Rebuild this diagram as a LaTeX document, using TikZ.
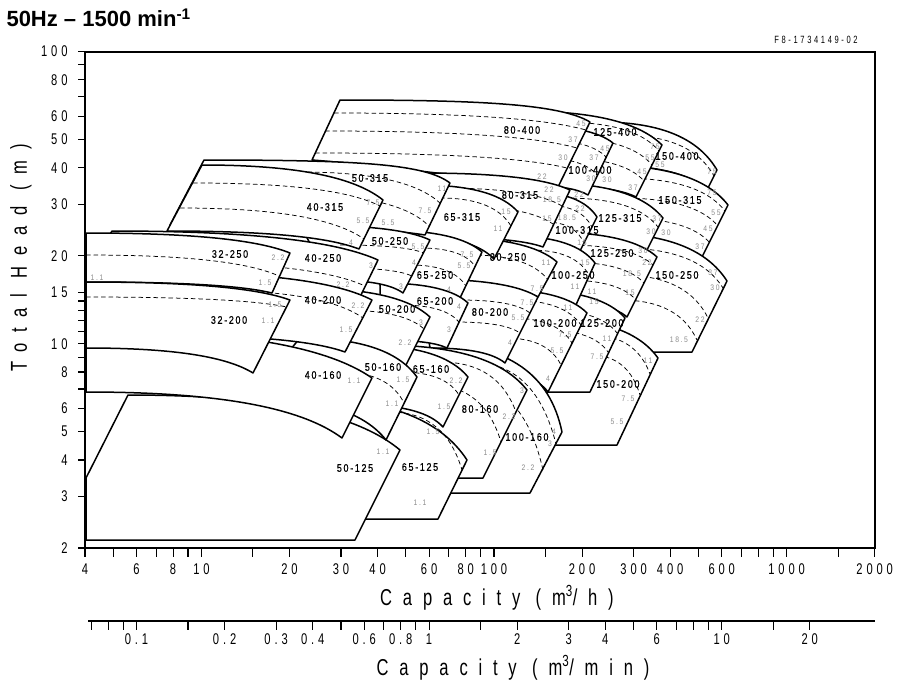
\documentclass[tikz,border=0pt]{standalone}
\usepackage{fontspec}
\setmainfont{Liberation Sans}
\newfontfamily\plotfont[FakeStretch=0.82,LetterSpace=15,FakeBold=0.6]{Liberation Sans}
\newfontfamily\kwfont[FakeStretch=0.85,LetterSpace=20]{Liberation Sans}
\newfontfamily\tickfont[FakeStretch=0.72,LetterSpace=25]{Liberation Sans}
\newfontfamily\axisfont[FakeStretch=0.72,LetterSpace=47]{Liberation Sans}
% pump curve piece: flat at the left, steep at the right
\newcommand\hq[4]{.. controls ({#1+0.55*(#3-#1)},#2) and ({#1+0.85*(#3-#1)},{#2+0.38*(#4-#2)}) .. (#3,#4)}
\newcommand\hqr[4]{.. controls ({#1+0.85*(#3-#1)},{#2+0.38*(#4-#2)}) and ({#1+0.55*(#3-#1)},#2) .. (#1,#2)}
% zone: top left, top right, bottom right, bottom left
\newcommand\pumpzone[8]{\filldraw[zone] (#1,#2) \hq{#1}{#2}{#3}{#4} -- (#5,#6) \hqr{#7}{#8}{#5}{#6} -- cycle;}
\newcommand\pumpzoneflat[8]{\filldraw[zone] (#1,#2) \hq{#1}{#2}{#3}{#4} -- (#5,#6) -- (#7,#8) -- cycle;}
\newcommand\motor[4]{\draw[kwline] (#1,#2) \hq{#1}{#2}{#3}{#4};}
\tikzset{
  zone/.style={draw=black, line width=1.5pt, fill=white, line join=round},
  kwline/.style={line width=0.75pt, dash pattern=on 4.5pt off 3pt},
  axisline/.style={line width=1.1pt},
  pname/.style={font=\plotfont\fontsize{11}{12}\selectfont},
  kwnum/.style={font=\kwfont\fontsize{8}{9}\selectfont, text=black!45},
  ticklab/.style={font=\tickfont\fontsize{15.5}{16}\selectfont},
  axistitle/.style={font=\axisfont\fontsize{23}{24}\selectfont}
}
\begin{document}
\begin{tikzpicture}[x=1pt, y=-1pt]
\useasboundingbox (0,0) rectangle (907,683);

% 150 series
\pumpzone{600}{122}{717}{170}{707}{190}{600}{165}
\motor{620}{135}{714}{176}
\pumpzone{600}{165}{728}{205}{701}{259}{600}{236}
\motor{620}{178}{725}{211}
\motor{620}{198}{718}{226}
\motor{620}{218}{710}{243}
\pumpzoneflat{600}{233}{727}{281}{692}{352}{600}{352}
\motor{620}{248}{723}{288}
\motor{620}{275}{708}{318}
\motor{620}{300}{697}{340}
\pumpzoneflat{540}{318}{658}{358}{617}{445}{540}{445}
\motor{590}{335}{650}{374}
\motor{590}{355}{640}{395}

% 125 series
\pumpzone{520}{111}{662}{145}{636}{197}{540}{185}
\motor{560}{122}{659}{151}
\motor{560}{138}{652}{165}
\motor{560}{158}{644}{181}
\pumpzone{545}{183}{663}{218}{647}{250}{545}{245}
\motor{565}{198}{658}{227}
\pumpzone{545}{232}{657}{257}{627}{317}{545}{300}
\motor{565}{245}{653}{265}
\motor{565}{262}{644}{283}
\motor{565}{280}{636}{300}
\pumpzoneflat{525}{290}{625}{318}{590}{392}{525}{392}
\motor{545}{310}{617}{333}
\motor{545}{330}{608}{352}

% 100 series
\pumpzone{520}{125}{613}{143}{588}{195}{520}{185}
\motor{540}{140}{606}{157}
\motor{540}{158}{597}{175}
\pumpzone{530}{192}{597}{217}{573}{265}{530}{250}
\motor{545}{205}{592}{227}
\motor{545}{222}{584}{243}
\pumpzone{510}{236}{595}{263}{575}{307}{510}{300}
\motor{530}{250}{589}{275}
\pumpzone{490}{289}{587}{313}{548}{392}{480}{370}
\motor{510}{300}{581}{325}
\motor{510}{318}{572}{343}
\motor{505}{338}{561}{365}
\filldraw[zone] (430,342) .. controls (510,345) and (550,375) .. (562,432) -- (530,493) -- (450,493) -- cycle;
\motor{470}{362}{556}{444}
\motor{460}{382}{543}{470}

% 80 series
\filldraw[zone] (340,100) .. controls (480,100) and (560,104) .. (590,122) -- (558,187) .. controls (470,178) and (390,166) .. (312,160) -- cycle;
\motor{334}{113}{586}{130}
\motor{325}{131}{577}{148}
\motor{315}{153}{567}{168}
\pumpzone{420}{173}{570}{190}{543}{247}{430}{237}
\motor{440}{188}{562}{206}
\motor{440}{205}{553}{224}
\pumpzone{440}{237}{557}{262}{538}{297}{440}{285}
\motor{470}{255}{548}{280}
\pumpzone{420}{279}{538}{297}{505}{363}{430}{348}
\motor{460}{300}{530}{313}
\motor{455}{322}{520}{333}
\pumpzoneflat{380}{345}{527}{390}{483}{478}{420}{478}
\motor{440}{362}{516}{412}
\motor{430}{385}{501}{442}

% 65 series
\pumpzone{420}{185}{518}{212}{494}{259}{400}{235}
\motor{440}{198}{511}{226}
\pumpzone{380}{230}{482}{252}{460}{298}{380}{285}
\motor{420}{248}{475}{266}
\motor{410}{265}{466}{286}
\pumpzone{380}{283}{468}{303}{447}{348}{380}{340}
\motor{400}{305}{459}{322}
\pumpzone{360}{345}{468}{377}{443}{427}{360}{405}
\motor{400}{372}{459}{395}
\pumpzoneflat{300}{398}{467}{460}{438}{519}{365}{519}
\motor{390}{412}{462}{470}

% 50 series
\filldraw[zone] (204,160) .. controls (360,160) and (425,164) .. (450,183) -- (425,235) \hqr{170}{225}{425}{235} -- cycle;
\motor{300}{172}{440}{203}
\motor{300}{195}{429}{226}
\pumpzone{300}{225}{430}{240}{403}{293}{330}{280}
\motor{340}{245}{424}{253}
\motor{340}{268}{412}{276}
\pumpzone{300}{288}{430}{317}{405}{367}{320}{345}
\motor{340}{310}{424}{329}
\filldraw[zone] (86,540) -- (355,540) -- (400,450) \hqr{128}{395}{400}{450} -- (86,478) -- cycle;
\pumpzone{300}{338}{417}{377}{386}{440}{250}{398}
\motor{340}{372}{404}{403}

% 40 series
\pumpzone{202}{165}{383}{200}{359}{249}{167}{231}
\motor{193}{183}{380}{206}
\motor{180}{208}{364}{239}
\pumpzone{112}{231}{378}{260}{360}{297}{86}{274}
\motor{150}{262}{365}{286}
\pumpzone{150}{272}{372}{300}{345}{352}{150}{335}
\motor{200}{290}{363}{318}
\pumpzone{86}{330}{372}{378}{342}{438}{86}{392}

% 32 series
\pumpzone{86}{233}{290}{253}{272}{293}{86}{282}
\motor{86}{255}{279}{276}
\pumpzone{86}{282}{290}{300}{253}{373}{86}{348}
\motor{86}{297}{287}{307}

% frame and axes
\draw[axisline] (85,52) rectangle (875,548);
\foreach \q in {4,5,6,7,8,9,10,15,20,30,40,50,60,70,80,90,100,150,200,300,400,500,600,700,800,900,1000,1500,2000}
  {\pgfmathsetmacro\xq{85+127.07*ln(\q/4)}
   \draw[axisline] (\xq,548) -- (\xq,557);}
\foreach \q in {4,6,8,10,20,30,40,60,80,100,200,300,400,600,1000,2000}
  {\pgfmathsetmacro\xq{85+127.07*ln(\q/4)}
   \node[ticklab] (qh\q) at (\xq,569) {\q};}
\foreach \h in {2,3,4,5,6,7,8,9,10,11,12,13,14,15,20,30,40,50,60,70,80,90,100}
  {\pgfmathsetmacro\yh{548-126.94*ln(\h/2)}
   \draw[axisline] (78,\yh) -- (85,\yh);}
\foreach \h in {2,3,4,5,6,8,10,15,20,30,40,50,60,80,100}
  {\pgfmathsetmacro\yh{548-126.94*ln(\h/2)}
   \node[ticklab, anchor=east] (hm\h) at (71,\yh) {\h};}
\draw[axisline] (88,621) -- (875,621);
\foreach \v in {0.07,0.08,0.09,0.1,0.15,0.2,0.3,0.4,0.5,0.6,0.7,0.8,0.9,1,1.5,2,3,4,5,6,7,8,9,10,15,20}
  {\pgfmathsetmacro\xv{85+127.07*ln(15*\v)}
   \draw[axisline] (\xv,621) -- (\xv,630);}
\foreach \v [count=\i] in {0.1,0.2,0.3,0.4,0.6,0.8,1,2,3,4,6,10,20}
  {\pgfmathsetmacro\xv{85+127.07*ln(15*\v)}
   \node[ticklab] (qm\i) at (\xv,639) {\v};}

\node[axistitle] (qhtitle) at (497,598) {Capacity (m\textsuperscript{3}/h)};
\node[axistitle] (qmtitle) at (513,668) {Capacity (m\textsuperscript{3}/min)};
\node[axistitle, rotate=90] (htitle) at (21,258) {Total Head (m)};
\node[anchor=west, font=\bfseries\fontsize{22}{24}\selectfont] (title) at (3,18) {50Hz – 1500 min\textsuperscript{-1}};
\node[font=\tickfont\fontsize{10.5}{11}\selectfont] (docno) at (816,40) {F8-1734149-02};

% pump sizes
\foreach \name/\x/\y in {32-250/230/254, 32-200/229/320, 40-315/325/207, 40-250/323/258,
  40-200/323/300, 40-160/323/375, 50-315/370/178, 50-250/390/241, 50-200/397/309,
  50-160/383/367, 50-125/355/468, 65-315/462/217, 65-250/435/275, 65-200/435/301,
  65-160/431/369, 65-125/420/467, 80-400/522/130, 80-315/520/195, 80-250/508/257,
  80-200/490/312, 80-160/480/409, 100-400/590/170, 100-315/577/230, 100-250/573/275,
  100-200/555/323, 100-160/527/437, 125-400/615/132, 125-315/620/218, 125-250/612/253,
  125-200/602/323, 150-400/677/156, 150-315/680/200, 150-250/677/275, 150-200/618/384}
  \node[pname] (p\name) at (\x,\y) {\name};

% motor outputs
\foreach \x/\y/\v [count=\i] in {278/258/2.2, 265/283/1.5, 97/278/1.1, 275/305/1.5, 268/321/1.1,
  373/203/7.5, 363/221/5.5, 351/243/4, 371/266/3, 343/285/2.2, 358/306/2.2, 346/330/1.5,
  354/381/1.1, 442/189/11, 425/211/7.5, 388/223/5.5, 418/247/5.5, 414/263/4, 401/287/3,
  421/323/3, 405/343/2.2, 403/380/1.5, 392/404/1.1, 383/452/1.1, 506/212/15, 498/229/11,
  467/255/7.5, 464/266/5.5, 449/290/4, 459/307/4, 449/330/3, 456/381/2.2, 444/407/1.5,
  433/432/1.5, 420/503/1.1, 581/124/45, 573/140/37, 563/158/30, 542/177/22, 549/190/22,
  552/200/18.5, 547/219/15, 546/263/11, 537/289/7.5, 527/303/7.5, 518/318/5.5, 510/343/4,
  522/391/3, 509/417/2.2, 490/453/1.5, 605/149/45, 594/158/37, 591/179/30, 607/180/30,
  579/195/22, 580/209/22, 567/218/18.5, 582/243/15, 585/263/15, 575/287/11, 592/292/11,
  568/308/11, 565/335/7.5, 557/351/5.5, 548/379/4, 554/432/4, 550/444/3, 528/468/2.2,
  655/147/75, 650/158/55, 642/172/45, 633/188/37, 657/219/37, 651/232/30, 666/233/30,
  643/251/30, 647/263/22, 632/274/18.5, 630/293/15, 594/302/15, 607/339/11, 597/357/7.5,
  712/172/75, 660/165/55, 712/193/75, 716/213/55, 708/229/45, 700/247/37, 713/273/37,
  715/288/30, 700/320/22, 679/340/18.5, 648/361/11, 628/399/7.5, 617/422/5.5}
  \node[kwnum] (kw\i) at (\x,\y) {\v};
\end{tikzpicture}
\end{document}
